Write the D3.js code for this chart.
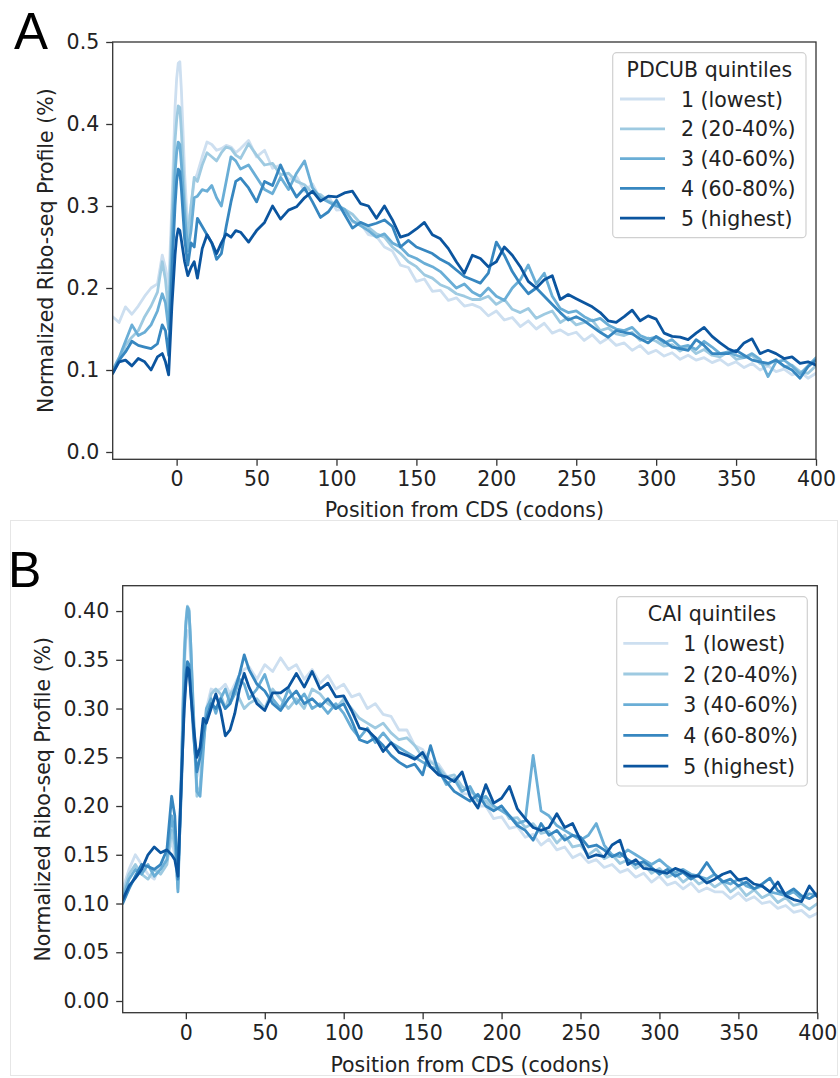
<!DOCTYPE html>
<html><head><meta charset="utf-8">
<script src="https://cdn.jsdelivr.net/npm/d3@7"></script>
<style>
body{margin:0;background:#fff;}
svg{display:block;}
text{font-family:"DejaVu Sans",sans-serif;}
</style>
</head><body>
<svg id="chart" width="840" height="1078"></svg>
<script>
// ---------- data ----------
const positions = [-40,-36,-32,-28,-24,-20,-16,-12,-9,-7,-5,-3,-1,0,1,2,3,5,7,9,11,13,16,19,22,25,28,31,34,37,
 40,45,50,55,60,65,70,75,80,85,90,95,100,105,110,115,120,125,130,135,140,145,150,155,160,165,170,175,180,185,
 190,195,200,205,210,215,220,225,230,235,240,245,250,255,260,265,270,275,280,285,290,295,300,305,310,315,320,325,330,335,
 340,345,350,355,360,365,370,375,380,385,390,395,400];

const quintileLabels = ["1 (lowest)","2 (20-40%)","3 (40-60%)","4 (60-80%)","5 (highest)"];
const quintileColors = ["#cddff0","#9ecae1","#6aaed6","#3787c0","#0b559f"];
const xTicks = [0,50,100,150,200,250,300,350,400];
const yTicksA = [0.0,0.1,0.2,0.3,0.4,0.5];
const yTicksB = [0.00,0.05,0.10,0.15,0.20,0.25,0.30,0.35,0.40];

// Panel A : PDCUB quintiles
const pdcub1 = [0.165,0.158,0.177,0.168,0.178,0.19,0.2,0.205,0.24,0.225,0.2,0.3,0.42,0.455,0.474,0.476,0.44,0.34,0.27,0.3,0.33,0.34,0.36,0.378,0.375,0.368,0.37,0.374,0.372,0.365,
 0.37,0.38,0.36,0.368,0.346,0.35,0.332,0.336,0.318,0.327,0.308,0.312,0.295,0.296,0.28,0.279,0.265,0.263,0.25,0.245,0.228,0.225,0.208,0.211,0.196,0.197,0.185,0.188,0.178,0.18,
 0.176,0.166,0.172,0.161,0.164,0.153,0.16,0.15,0.157,0.145,0.149,0.143,0.146,0.136,0.143,0.133,0.139,0.13,0.133,0.124,0.13,0.12,0.124,0.117,0.121,0.113,0.118,0.112,0.115,0.109,
 0.113,0.106,0.11,0.103,0.108,0.1,0.105,0.098,0.101,0.094,0.098,0.09,0.096];
const pdcub2 = [0.1,0.11,0.13,0.14,0.148,0.165,0.178,0.195,0.232,0.21,0.17,0.28,0.38,0.405,0.422,0.42,0.39,0.31,0.26,0.3,0.335,0.33,0.35,0.365,0.36,0.355,0.365,0.372,0.37,0.362,
 0.358,0.376,0.362,0.35,0.352,0.338,0.34,0.33,0.326,0.316,0.314,0.306,0.302,0.296,0.29,0.279,0.274,0.266,0.262,0.25,0.242,0.232,0.226,0.216,0.212,0.204,0.2,0.193,0.19,0.186,
 0.186,0.19,0.18,0.186,0.174,0.17,0.175,0.163,0.168,0.172,0.158,0.164,0.155,0.158,0.161,0.148,0.151,0.144,0.142,0.146,0.136,0.139,0.135,0.129,0.131,0.123,0.129,0.12,0.125,0.118,
 0.116,0.122,0.113,0.115,0.118,0.108,0.106,0.113,0.104,0.106,0.098,0.096,0.105];
const pdcub3 = [0.1,0.115,0.135,0.155,0.142,0.146,0.155,0.172,0.193,0.182,0.15,0.25,0.34,0.365,0.378,0.375,0.35,0.29,0.245,0.27,0.31,0.312,0.32,0.318,0.325,0.31,0.3,0.33,0.36,0.355,
 0.345,0.35,0.335,0.32,0.315,0.335,0.32,0.34,0.355,0.322,0.31,0.305,0.3,0.296,0.282,0.276,0.27,0.262,0.266,0.255,0.25,0.24,0.236,0.23,0.226,0.22,0.21,0.2,0.205,0.195,
 0.19,0.2,0.19,0.185,0.2,0.21,0.228,0.205,0.218,0.19,0.175,0.17,0.172,0.165,0.16,0.163,0.155,0.15,0.148,0.152,0.142,0.138,0.14,0.133,0.137,0.128,0.13,0.125,0.135,0.128,
 0.12,0.122,0.118,0.115,0.12,0.113,0.092,0.11,0.112,0.105,0.095,0.105,0.115];
const pdcub4 = [0.096,0.112,0.122,0.135,0.13,0.128,0.126,0.132,0.155,0.148,0.118,0.218,0.3,0.33,0.345,0.342,0.32,0.26,0.228,0.255,0.25,0.285,0.275,0.265,0.255,0.235,0.242,0.275,0.305,0.33,
 0.334,0.322,0.305,0.33,0.325,0.35,0.328,0.311,0.322,0.305,0.286,0.293,0.307,0.29,0.273,0.28,0.276,0.279,0.283,0.275,0.25,0.258,0.25,0.246,0.242,0.235,0.23,0.222,0.214,0.21,
 0.206,0.218,0.256,0.24,0.22,0.205,0.193,0.2,0.19,0.18,0.17,0.161,0.165,0.16,0.153,0.146,0.14,0.148,0.146,0.144,0.138,0.133,0.141,0.135,0.128,0.126,0.124,0.137,0.13,0.12,
 0.12,0.12,0.124,0.118,0.112,0.11,0.108,0.112,0.105,0.1,0.09,0.104,0.112];
const pdcub5 = [0.096,0.11,0.112,0.105,0.114,0.11,0.1,0.116,0.12,0.11,0.094,0.177,0.24,0.262,0.272,0.27,0.258,0.232,0.215,0.225,0.232,0.212,0.248,0.265,0.255,0.242,0.255,0.266,0.262,0.27,
 0.268,0.256,0.27,0.28,0.3,0.284,0.295,0.299,0.31,0.318,0.306,0.312,0.311,0.316,0.318,0.303,0.3,0.285,0.3,0.283,0.262,0.265,0.272,0.28,0.265,0.26,0.248,0.232,0.218,0.24,
 0.236,0.226,0.232,0.25,0.24,0.226,0.208,0.2,0.21,0.215,0.186,0.192,0.187,0.182,0.177,0.17,0.16,0.158,0.165,0.173,0.16,0.166,0.162,0.145,0.141,0.14,0.137,0.145,0.152,0.141,
 0.133,0.126,0.122,0.133,0.138,0.12,0.124,0.12,0.114,0.116,0.108,0.11,0.106];

// Panel B : CAI quintiles
const cai1 = [0.115,0.135,0.15,0.14,0.13,0.125,0.14,0.145,0.165,0.15,0.12,0.22,0.34,0.37,0.38,0.378,0.35,0.28,0.23,0.245,0.28,0.3,0.32,0.318,0.32,0.325,0.315,0.325,0.335,0.34,
 0.343,0.33,0.345,0.338,0.352,0.34,0.345,0.33,0.34,0.326,0.334,0.32,0.325,0.312,0.315,0.3,0.305,0.294,0.292,0.278,0.278,0.262,0.258,0.246,0.243,0.231,0.228,0.213,0.212,0.2,
 0.2,0.187,0.189,0.177,0.179,0.168,0.171,0.16,0.166,0.155,0.158,0.147,0.151,0.142,0.145,0.137,0.14,0.132,0.135,0.127,0.131,0.122,0.128,0.119,0.122,0.115,0.121,0.112,0.116,0.112,
 0.112,0.105,0.111,0.103,0.107,0.1,0.102,0.095,0.098,0.091,0.093,0.086,0.09];
const cai2 = [0.11,0.13,0.14,0.13,0.125,0.135,0.13,0.14,0.175,0.16,0.115,0.23,0.36,0.39,0.405,0.402,0.37,0.28,0.21,0.22,0.265,0.29,0.315,0.32,0.315,0.3,0.315,0.32,0.31,0.3,
 0.305,0.31,0.3,0.32,0.31,0.3,0.31,0.3,0.32,0.315,0.305,0.3,0.31,0.3,0.29,0.285,0.28,0.285,0.275,0.268,0.27,0.262,0.25,0.245,0.24,0.23,0.232,0.22,0.215,0.21,
 0.205,0.196,0.2,0.187,0.188,0.178,0.182,0.172,0.174,0.162,0.17,0.158,0.16,0.15,0.156,0.146,0.15,0.141,0.145,0.136,0.141,0.131,0.136,0.127,0.131,0.122,0.128,0.12,0.124,0.117,
 0.122,0.112,0.118,0.108,0.114,0.106,0.11,0.101,0.106,0.098,0.1,0.094,0.1];
const cai3 = [0.105,0.125,0.135,0.13,0.14,0.128,0.135,0.145,0.19,0.17,0.112,0.22,0.35,0.385,0.404,0.4,0.37,0.29,0.215,0.21,0.255,0.3,0.31,0.295,0.31,0.32,0.305,0.315,0.33,0.325,
 0.31,0.32,0.335,0.31,0.3,0.32,0.305,0.315,0.3,0.305,0.295,0.305,0.295,0.28,0.27,0.28,0.265,0.275,0.265,0.26,0.255,0.25,0.245,0.24,0.238,0.222,0.228,0.215,0.22,0.205,
 0.21,0.2,0.195,0.19,0.182,0.185,0.252,0.195,0.19,0.18,0.175,0.17,0.165,0.17,0.182,0.16,0.15,0.148,0.155,0.15,0.145,0.14,0.145,0.138,0.132,0.135,0.13,0.128,0.125,0.13,
 0.123,0.12,0.125,0.118,0.115,0.118,0.112,0.11,0.108,0.112,0.105,0.11,0.108];
const cai4 = [0.1,0.115,0.128,0.14,0.138,0.135,0.14,0.155,0.21,0.19,0.125,0.21,0.31,0.335,0.348,0.345,0.32,0.27,0.235,0.25,0.275,0.29,0.305,0.3,0.31,0.3,0.305,0.32,0.335,0.355,
 0.34,0.325,0.318,0.305,0.298,0.31,0.318,0.305,0.31,0.302,0.31,0.3,0.305,0.288,0.268,0.265,0.27,0.262,0.252,0.245,0.24,0.243,0.232,0.262,0.235,0.225,0.215,0.21,0.205,0.212,
 0.2,0.195,0.2,0.19,0.18,0.175,0.165,0.182,0.17,0.175,0.165,0.17,0.168,0.158,0.16,0.155,0.148,0.152,0.145,0.14,0.143,0.137,0.13,0.135,0.128,0.132,0.125,0.13,0.142,0.13,
 0.122,0.125,0.118,0.122,0.115,0.12,0.126,0.113,0.11,0.115,0.108,0.105,0.11];
const cai5 = [0.104,0.118,0.126,0.135,0.15,0.158,0.152,0.155,0.15,0.145,0.128,0.22,0.3,0.325,0.342,0.34,0.318,0.28,0.25,0.26,0.29,0.285,0.3,0.315,0.298,0.272,0.278,0.295,0.32,0.336,
 0.322,0.305,0.298,0.316,0.316,0.322,0.336,0.322,0.338,0.32,0.326,0.312,0.313,0.298,0.28,0.278,0.27,0.256,0.265,0.255,0.252,0.248,0.255,0.24,0.232,0.23,0.225,0.235,0.21,0.198,
 0.222,0.203,0.208,0.22,0.197,0.187,0.178,0.175,0.178,0.192,0.178,0.182,0.165,0.147,0.15,0.148,0.16,0.165,0.14,0.145,0.136,0.135,0.133,0.131,0.136,0.133,0.128,0.128,0.121,0.125,
 0.13,0.133,0.124,0.126,0.12,0.118,0.112,0.122,0.108,0.104,0.102,0.118,0.107];

// ---------- drawing ----------
const svg = d3.select("#chart");
const FONT = 20.5, INK = "#222", SPINE = "#333";

function drawPanel(cfg) {
  const x = d3.scaleLinear().domain([-40, 400]).range([cfg.left, cfg.right]);
  const y = d3.scaleLinear().domain(cfg.yDomain).range([cfg.bottom, cfg.top]);
  const g = svg.append("g");

  const clipId = "clip" + cfg.id;
  svg.append("clipPath").attr("id", clipId).append("rect")
    .attr("x", cfg.left).attr("y", cfg.top)
    .attr("width", cfg.right - cfg.left).attr("height", cfg.bottom - cfg.top);

  const line = d3.line().x((d, i) => x(positions[i])).y(d => y(d)).curve(d3.curveLinear);
  const lines = g.append("g").attr("clip-path", `url(#${clipId})`);
  cfg.series.forEach((s, i) => {
    lines.append("path").datum(s).attr("d", line)
      .attr("fill", "none").attr("stroke", quintileColors[i])
      .attr("stroke-width", 2.8).attr("stroke-linejoin", "round").attr("stroke-linecap", "round");
  });

  // axes
  const xAxis = d3.axisBottom(x).tickValues(xTicks).tickFormat(d3.format("d")).tickSize(6.5).tickPadding(6);
  const yAxis = d3.axisLeft(y).tickValues(cfg.yTicks).tickFormat(d3.format(cfg.yFmt)).tickSize(6.5).tickPadding(7);
  const gx = g.append("g").attr("transform", `translate(0,${cfg.bottom})`).call(xAxis);
  const gy = g.append("g").attr("transform", `translate(${cfg.left},0)`).call(yAxis);
  [gx, gy].forEach(a => {
    a.select(".domain").remove();
    a.selectAll("line").attr("stroke", SPINE).attr("stroke-width", 1.3);
    a.selectAll("text").attr("fill", INK).style("font-size", FONT + "px").style("font-family", "DejaVu Sans");
  });

  // frame
  g.append("rect").attr("x", cfg.left).attr("y", cfg.top)
    .attr("width", cfg.right - cfg.left).attr("height", cfg.bottom - cfg.top)
    .attr("fill", "none").attr("stroke", SPINE).attr("stroke-width", 1.3);

  // labels
  g.append("text").attr("x", (cfg.left + cfg.right) / 2).attr("y", cfg.xLabelY)
    .attr("text-anchor", "middle").attr("fill", INK).style("font-size", FONT + "px")
    .text("Position from CDS (codons)");
  g.append("text").attr("transform", `translate(${cfg.yLabelX},${(cfg.top + cfg.bottom) / 2}) rotate(-90)`)
    .attr("text-anchor", "middle").attr("fill", INK).style("font-size", FONT + "px")
    .text("Normalized Ribo-seq Profile (%)");
  g.append("text").attr("x", cfg.tag.x).attr("y", cfg.tag.y)
    .style("font-family", "'Liberation Sans', Arial, sans-serif").style("font-size", cfg.tag.size + "px")
    .attr("fill", "#000").text(cfg.tag.text);

  // legend
  const L = cfg.legend;
  const lg = g.append("g");
  lg.append("rect").attr("x", L.x).attr("y", L.y).attr("width", L.w).attr("height", L.h)
    .attr("rx", 4).attr("fill", "#fff").attr("fill-opacity", 0.85)
    .attr("stroke", "#d0d0d0").attr("stroke-width", 1.2);
  lg.append("text").attr("x", L.x + L.w / 2).attr("y", L.titleY).attr("text-anchor", "middle")
    .attr("fill", INK).style("font-size", FONT + "px").text(cfg.legendTitle);
  quintileLabels.forEach((lab, i) => {
    const ly = L.firstY + i * L.step;
    lg.append("line").attr("x1", L.lineX1).attr("x2", L.lineX2).attr("y1", ly).attr("y2", ly)
      .attr("stroke", quintileColors[i]).attr("stroke-width", 2.8);
    lg.append("text").attr("x", L.textX).attr("y", ly + 7.5).attr("fill", INK)
      .style("font-size", FONT + "px").text(lab);
  });
}

// faint frame around panel B image
svg.append("rect").attr("x", 10.5).attr("y", 520.5).attr("width", 827).attr("height", 555)
  .attr("fill", "none").attr("stroke", "#e6e6e6").attr("stroke-width", 1);

drawPanel({
  id: "A", left: 112.7, right: 816, top: 42, bottom: 459.3,
  yDomain: [-0.0089, 0.5], yTicks: yTicksA, yFmt: ".1f",
  series: [pdcub1, pdcub2, pdcub3, pdcub4, pdcub5],
  xLabelY: 516.5, yLabelX: 53,
  tag: {text: "A", x: 14, y: 48.5, size: 51},
  legendTitle: "PDCUB quintiles",
  legend: {x: 612.7, y: 52.7, w: 193.3, h: 185, titleY: 77, firstY: 99, step: 29.8, lineX1: 620, lineX2: 665, textX: 681}
});

drawPanel({
  id: "B", left: 122.7, right: 817.3, top: 585.7, bottom: 1012.7,
  yDomain: [-0.012, 0.426], yTicks: yTicksB, yFmt: ".2f",
  series: [cai1, cai2, cai3, cai4, cai5],
  xLabelY: 1071.5, yLabelX: 50,
  tag: {text: "B", x: 8, y: 586.5, size: 50},
  legendTitle: "CAI quintiles",
  legend: {x: 616.7, y: 596.7, w: 190.6, h: 189.3, titleY: 621, firstY: 643.3, step: 30.7, lineX1: 623.3, lineX2: 668.3, textX: 683.3}
});
</script>
</body></html>
